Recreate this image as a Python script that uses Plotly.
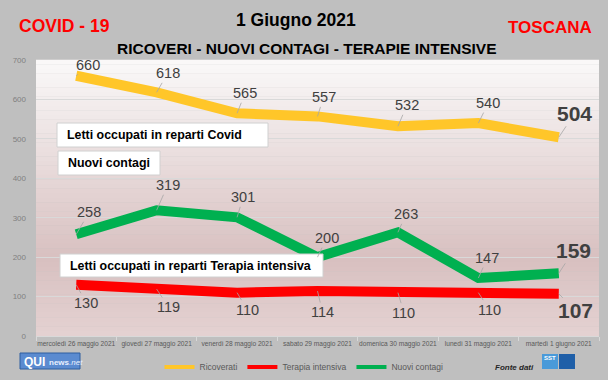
import plotly.graph_objects as go

# ---------------- data ----------------
categories = ["mercoledì 26 maggio 2021", "giovedì 27 maggio 2021", "venerdì 28 maggio 2021",
              "sabato 29 maggio 2021", "domenica 30 maggio 2021", "lunedì 31 maggio 2021",
              "martedì 1 giugno 2021"]
ricoverati = [660, 618, 565, 557, 532, 540, 504]
nuovi_contagi = [258, 319, 301, 200, 263, 147, 159]
terapia_intensiva = [130, 119, 110, 114, 110, 110, 107]
y_ticks = [0, 100, 200, 300, 400, 500, 600, 700]

# ---------------- style ----------------
W, H = 608, 380
ML, MR, MT, MB = 36, 9, 60, 44
PW, PH = W - ML - MR, H - MT - MB
FONT = "Liberation Sans"
YELLOW, RED, GREEN = "#FFC629", "#FF0000", "#00B050"
LABEL_COLOR = "#404040"

def px(X):
    return (X - ML) / PW

def py(Y):
    return (H - MB - Y) / PH

# label offsets (pixels) for data labels
off_ric = [(12, -11), (11, -19), (8, -20), (6, -19), (9, -21), (10, -20), (16, -24)]
off_con = [(13, -22), (11, -25), (6, -20), (9, -19), (8, -18), (9, -20), (15, -23)]
off_ter = [(10, 18), (12, 18), (10, 17), (5, 21), (6, 20), (11, 17), (17, 17)]

fig = go.Figure()

for name, vals, col in [("Ricoverati", ricoverati, YELLOW),
                        ("Terapia intensiva", terapia_intensiva, RED),
                        ("Nuovi contagi", nuovi_contagi, GREEN)]:
    fig.add_trace(go.Scatter(x=categories, y=vals, mode="lines", name=name,
                             line=dict(color=col, width=10), showlegend=False,
                             hoverinfo="skip"))
# legend entries
for name, col in [("Ricoverati", YELLOW), ("Terapia intensiva", RED), ("Nuovi contagi", GREEN)]:
    fig.add_trace(go.Scatter(x=[None], y=[None], mode="lines", name=name,
                             line=dict(color=col, width=4), showlegend=True))

annotations = []
for vals, offs in [(ricoverati, off_ric), (nuovi_contagi, off_con), (terapia_intensiva, off_ter)]:
    n = len(vals)
    for i, (v, (ox, oy)) in enumerate(zip(vals, offs)):
        last = i == n - 1
        txt = f"<b>{v}</b>" if last else str(v)
        annotations.append(dict(
            x=categories[i], y=v, xref="x", yref="y", text=txt, showarrow=True,
            arrowhead=0, arrowwidth=0.8, arrowcolor="#a6a6a6", ax=ox, ay=oy,
            font=dict(family=FONT, size=21 if last else 14.5, color=LABEL_COLOR)))

# titles
annotations += [
    dict(x=px(295.5), y=py(20), xref="paper", yref="paper", text="<b>1 Giugno 2021</b>",
         showarrow=False, xanchor="center", yanchor="middle",
         font=dict(family=FONT, size=17.5, color="#000000")),
    dict(x=px(307), y=py(48), xref="paper", yref="paper",
         text="<b>RICOVERI - NUOVI CONTAGI - TERAPIE INTENSIVE</b>",
         showarrow=False, xanchor="center", yanchor="middle",
         font=dict(family=FONT, size=15.5, color="#000000")),
    dict(x=px(17), y=py(26), xref="paper", yref="paper", text="<b>COVID - 19</b>",
         showarrow=False, xanchor="left", yanchor="middle",
         font=dict(family=FONT, size=17.5, color="#FF0000")),
    dict(x=px(594), y=py(28), xref="paper", yref="paper", text="<b>TOSCANA</b>",
         showarrow=False, xanchor="right", yanchor="middle",
         font=dict(family=FONT, size=17, color="#FF0000")),
]

shapes = []
# plot-area gradient background
stops = [(0.0, (250, 249, 249)), (0.72, (216, 192, 192)), (1.0, (228, 210, 210))]
NSTR = 60
for k in range(NSTR):
    t = (k + 0.5) / NSTR  # 0 top -> 1 bottom
    for j in range(len(stops) - 1):
        if stops[j][0] <= t <= stops[j + 1][0]:
            a, ca = stops[j]
            b, cb = stops[j + 1]
            f = (t - a) / (b - a)
            c = tuple(round(ca[m] + (cb[m] - ca[m]) * f) for m in range(3))
            break
    shapes.append(dict(type="rect", xref="paper", yref="paper", x0=0, x1=1,
                       y0=1 - (k + 1) / NSTR, y1=1 - k / NSTR + 0.001,
                       fillcolor=f"rgb{c}", line=dict(width=0), layer="below"))

# text boxes
boxes = [
    ((57, 268, 123, 147), "Letti occupati in reparti Covid"),
    ((58, 160, 151, 175), "Nuovi contagi"),
    ((60, 323, 254, 277), "Letti occupati in reparti Terapia intensiva"),
]
for (x0, x1, y0, y1), txt in boxes:
    shapes.append(dict(type="rect", xref="paper", yref="paper",
                       x0=px(x0), x1=px(x1), y0=py(y1), y1=py(y0),
                       fillcolor="#FFFFFF", line=dict(color="#D0D0D0", width=1), layer="above"))
    annotations.append(dict(x=px(x0 + 8), y=py((y0 + y1) / 2), xref="paper", yref="paper",
                            text=f"<b>{txt}</b>", showarrow=False, xanchor="left",
                            yanchor="middle", font=dict(family=FONT, size=12.4, color="#000000")))

# QUI news logo
shapes.append(dict(type="rect", xref="paper", yref="paper", x0=px(20), x1=px(80),
                   y0=py(369), y1=py(353), fillcolor="#5B8BD0",
                   line=dict(color="#2F5FA0", width=1)))
annotations.append(dict(x=px(22), y=py(361.5), xref="paper", yref="paper",
                        text="<b>QUI</b>", showarrow=False, xanchor="left", yanchor="middle",
                        font=dict(family=FONT, size=12, color="#FFFFFF")))
annotations.append(dict(x=px(47), y=py(362), xref="paper", yref="paper",
                        text="<b>news</b><i>.net</i>", showarrow=False, xanchor="left",
                        yanchor="middle", font=dict(family=FONT, size=8, color="#E8F0FF")))
# SST logo
shapes.append(dict(type="rect", xref="paper", yref="paper", x0=px(542), x1=px(558),
                   y0=py(369), y1=py(354), fillcolor="#4A9AD9", line=dict(width=0)))
shapes.append(dict(type="rect", xref="paper", yref="paper", x0=px(559), x1=px(575),
                   y0=py(369), y1=py(354), fillcolor="#1F5FA8", line=dict(width=0)))
annotations.append(dict(x=px(550), y=py(358), xref="paper", yref="paper", text="<b>SST</b>",
                        showarrow=False, xanchor="center", yanchor="middle",
                        font=dict(family=FONT, size=6, color="#FFFFFF")))
annotations.append(dict(x=px(536), y=py(367), xref="paper", yref="paper",
                        text="<b><i>Fonte dati</i></b>", showarrow=False, xanchor="right",
                        yanchor="middle", font=dict(family=FONT, size=8, color="#262626")))

fig.update_layout(
    width=W, height=H,
    margin=dict(l=ML, r=MR, t=MT, b=MB, pad=0, autoexpand=False),
    paper_bgcolor="#BFBFBF",
    plot_bgcolor="rgba(0,0,0,0)",
    font=dict(family=FONT),
    showlegend=True,
    legend=dict(orientation="h", x=px(304), xanchor="center", y=py(367), yanchor="middle",
                font=dict(family=FONT, size=8.5, color="#595959"),
                bgcolor="rgba(0,0,0,0)", itemwidth=30, tracegroupgap=0),
    xaxis=dict(type="category", range=[-0.5, len(categories) - 0.5], showgrid=False,
               showline=True, linecolor="#D9D9D9", linewidth=1, tickangle=0, automargin=False,
               ticks="outside", tickson="boundaries", ticklen=4, tickcolor="#D9D9D9",
               ticklabelstandoff=1,
               tickfont=dict(family=FONT, size=6.6, color="#595959"), fixedrange=True),
    yaxis=dict(range=[0, 700], tickvals=y_ticks, showgrid=True, gridcolor="#D9D9D9",
               gridwidth=1, zeroline=False, showline=False, ticks="", automargin=False,
               ticklabelstandoff=9,
               tickfont=dict(family=FONT, size=8, color="#7F7F7F"), fixedrange=True),
    shapes=shapes,
    annotations=annotations,
)

fig.write_html("out.html", config={"displayModeBar": False},
               post_script="document.body.style.margin='0';document.body.style.overflow='hidden';")
